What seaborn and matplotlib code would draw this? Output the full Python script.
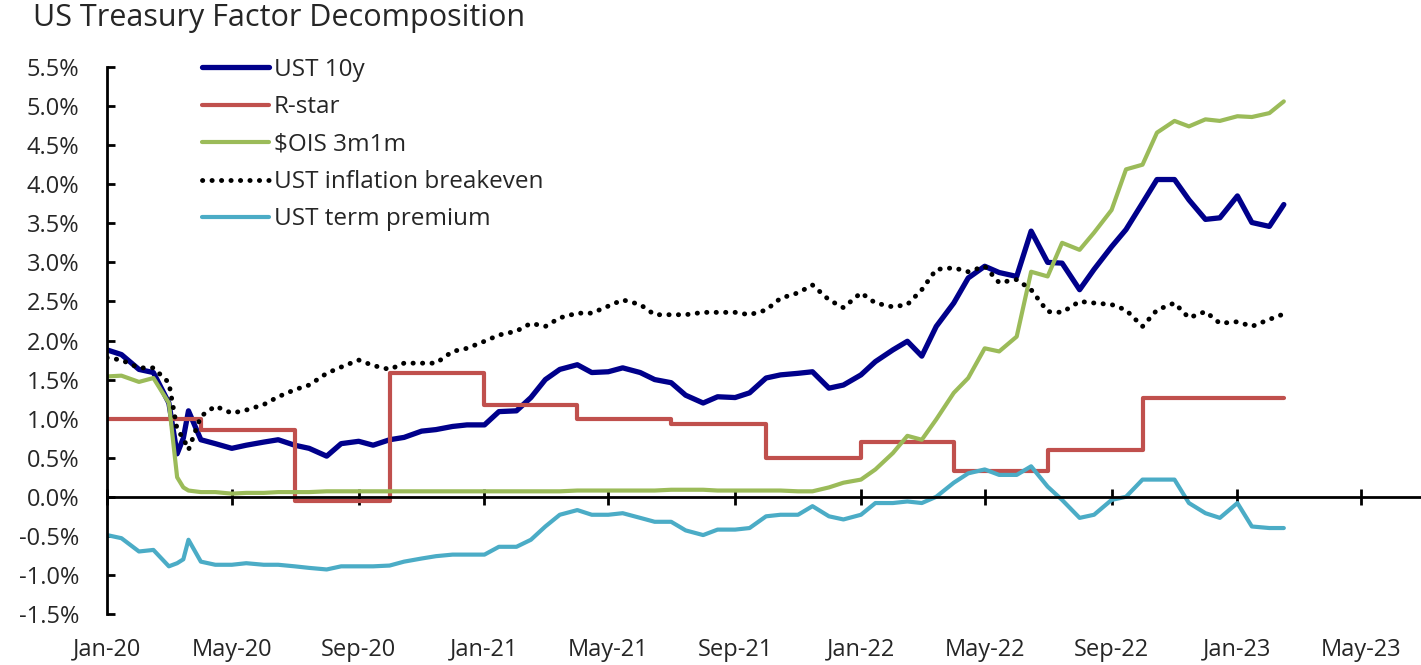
import pandas as pd
import numpy as np
import seaborn as sns
import matplotlib.pyplot as plt
import matplotlib.dates as mdates
from matplotlib.ticker import FuncFormatter, MultipleLocator

# --- data (semi-monthly readings, %, plus a few extra March-2020 points) ---
dates = pd.date_range('2020-01-01', '2023-02-15', freq='SMS')
dates = dates.append(pd.to_datetime(['2020-03-09', '2020-03-20'])).sort_values()

ust_10y = [
    1.88, 1.82, 1.63, 1.59, 1.20, 0.55, 0.75, 1.10, 0.73, 0.68, 0.62, 0.66, 0.70, 0.73,
    0.66, 0.62, 0.52, 0.68, 0.71, 0.66, 0.73, 0.76, 0.84, 0.86, 0.90, 0.92,
    0.92, 1.09, 1.10, 1.27, 1.50, 1.63, 1.69, 1.59, 1.60, 1.65, 1.59, 1.50,
    1.46, 1.30, 1.20, 1.28, 1.27, 1.33, 1.52, 1.56, 1.58, 1.60, 1.39, 1.43,
    1.56, 1.73, 1.88, 1.99, 1.80, 2.18, 2.48, 2.80, 2.95, 2.87, 2.82, 3.40,
    3.00, 2.99, 2.65, 2.91, 3.20, 3.42, 3.76, 4.06, 4.06, 3.80, 3.55, 3.57,
    3.85, 3.51, 3.46, 3.74,
]

ois_3m1m = [
    1.54, 1.55, 1.47, 1.52, 1.20, 0.25, 0.12, 0.08, 0.06, 0.06, 0.04, 0.05, 0.05, 0.06,
    0.06, 0.06, 0.07, 0.07, 0.07, 0.07, 0.07, 0.07, 0.07, 0.07, 0.07, 0.07,
    0.07, 0.07, 0.07, 0.07, 0.07, 0.07, 0.08, 0.08, 0.08, 0.08, 0.08, 0.08,
    0.09, 0.09, 0.09, 0.08, 0.08, 0.08, 0.08, 0.08, 0.07, 0.07, 0.12, 0.18,
    0.22, 0.35, 0.56, 0.78, 0.73, 0.99, 1.33, 1.52, 1.90, 1.86, 2.05, 2.88,
    2.82, 3.25, 3.16, 3.38, 3.67, 4.19, 4.25, 4.66, 4.81, 4.74, 4.83, 4.81,
    4.87, 4.86, 4.91, 5.06,
]

breakeven = [
    1.78, 1.75, 1.65, 1.65, 1.46, 0.86, 0.75, 0.60, 1.03, 1.16, 1.07, 1.11, 1.18, 1.28,
    1.37, 1.43, 1.58, 1.66, 1.75, 1.68, 1.63, 1.71, 1.71, 1.71, 1.86, 1.90,
    1.99, 2.07, 2.12, 2.22, 2.18, 2.29, 2.35, 2.35, 2.44, 2.52, 2.46, 2.33,
    2.33, 2.33, 2.36, 2.36, 2.36, 2.33, 2.39, 2.54, 2.61, 2.71, 2.52, 2.42,
    2.61, 2.48, 2.43, 2.46, 2.65, 2.91, 2.93, 2.88, 2.95, 2.74, 2.78, 2.65,
    2.37, 2.36, 2.50, 2.48, 2.46, 2.39, 2.18, 2.39, 2.48, 2.29, 2.37, 2.22,
    2.24, 2.18, 2.27, 2.34,
]

term_premium = [
    -0.49, -0.53, -0.70, -0.68, -0.89, -0.85, -0.80, -0.55, -0.83, -0.87, -0.87, -0.85, -0.87, -0.87,
    -0.89, -0.91, -0.93, -0.89, -0.89, -0.89, -0.88, -0.83, -0.79, -0.76, -0.74, -0.74,
    -0.74, -0.64, -0.64, -0.55, -0.38, -0.23, -0.17, -0.23, -0.23, -0.21, -0.27, -0.32,
    -0.32, -0.43, -0.49, -0.42, -0.42, -0.40, -0.25, -0.23, -0.23, -0.12, -0.25, -0.29,
    -0.23, -0.08, -0.08, -0.06, -0.08, 0.00, 0.18, 0.30, 0.35, 0.28, 0.28, 0.39,
    0.13, -0.04, -0.27, -0.23, -0.04, 0.00, 0.22, 0.22, 0.22, -0.08, -0.21, -0.27,
    -0.08, -0.38, -0.40, -0.40,
]

# R-star is a quarterly step series
rstar_dates = pd.to_datetime([
    '2020-01-01', '2020-04-01', '2020-07-01', '2020-10-01',
    '2021-01-01', '2021-04-01', '2021-07-01', '2021-10-01',
    '2022-01-01', '2022-04-01', '2022-07-01', '2022-10-01', '2023-02-15',
])
rstar = [1.00, 0.85, -0.05, 1.59, 1.18, 0.99, 0.93, 0.50, 0.70, 0.33, 0.60, 1.27, 1.27]

# --- style ---
sns.set_style('white')
plt.rcParams['font.family'] = ['Open Sans', 'DejaVu Sans']

W, H = 1421, 665
fig = plt.figure(figsize=(W / 100, H / 100), dpi=100)
ax = fig.add_axes([107 / W, 51 / H, (W - 107) / W, (614 - 67) / H])

sns.lineplot(x=dates, y=ust_10y, ax=ax, color='#00008B', lw=3.8, label='UST 10y')
sns.lineplot(x=rstar_dates, y=rstar, ax=ax, color='#C0504D', lw=3.0,
             drawstyle='steps-post', label='R-star')
sns.lineplot(x=dates, y=ois_3m1m, ax=ax, color='#9BBB59', lw=3.0, label='$OIS 3m1m')
sns.lineplot(x=dates, y=breakeven, ax=ax, color='black', lw=3.5,
             linestyle=(0, (0.05, 1.9)), dash_capstyle='round',
             label='UST inflation breakeven')
sns.lineplot(x=dates, y=term_premium, ax=ax, color='#4BACC6', lw=3.0,
             label='UST term premium')

ax.set_ylim(-1.5, 5.5)
ax.set_xlim(pd.Timestamp('2020-01-01'), pd.Timestamp('2023-06-28'))
ax.yaxis.set_major_locator(MultipleLocator(0.5))
ax.yaxis.set_major_formatter(FuncFormatter(lambda v, p: f'{v:.1f}%'))
ax.set_xlabel('')
ax.set_ylabel('')

for s in ['top', 'right']:
    ax.spines[s].set_visible(False)
ax.spines['left'].set_linewidth(2.0)
ax.spines['left'].set_color('black')
ax.spines['bottom'].set_position(('data', 0))
ax.spines['bottom'].set_linewidth(2.0)
ax.spines['bottom'].set_color('black')

ax.xaxis.set_major_locator(mdates.MonthLocator(bymonth=(1, 5, 9)))
ax.tick_params(axis='x', which='major', direction='inout', length=12, width=2,
               color='black', labelbottom=False, bottom=True)
ax.tick_params(axis='y', which='major', direction='in', length=6, width=2,
               color='black', left=True, labelsize=17, pad=20)

# labels for the x axis sit at the bottom of the plot, not on the zero line
secax = ax.secondary_xaxis(0)
secax.xaxis.set_major_locator(mdates.MonthLocator(bymonth=(1, 5, 9)))
secax.xaxis.set_major_formatter(mdates.DateFormatter('%b-%y'))
secax.spines['bottom'].set_visible(False)
secax.tick_params(length=0, labelsize=17, pad=17)

leg = ax.legend(loc='upper left', bbox_to_anchor=(202 / W, 1 - 58 / H),
                bbox_transform=fig.transFigure, frameon=False, fontsize=17.5,
                handlelength=2.75, handletextpad=0.2, labelspacing=0.55,
                borderpad=0, borderaxespad=0)

fig.text(33 / W, 1 - 18 / H, 'US Treasury Factor Decomposition',
         fontsize=22, va='center', ha='left')

fig.savefig('out.png', dpi=100)
